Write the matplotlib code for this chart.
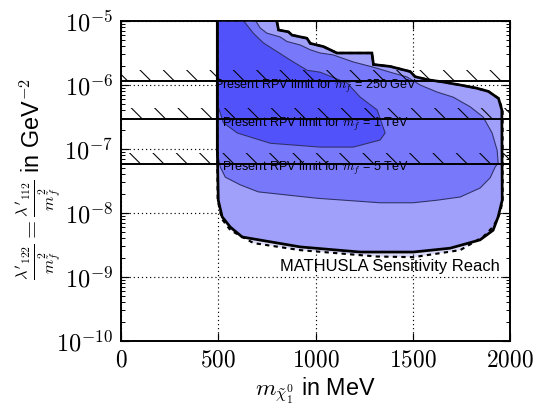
import matplotlib
matplotlib.use("Agg")
import matplotlib.pyplot as plt
from matplotlib.ticker import FuncFormatter, LogLocator, FixedLocator
import numpy as np

plt.rcParams['font.family'] = ['Liberation Sans', 'DejaVu Sans']
plt.rcParams['mathtext.fontset'] = 'cm'
plt.rcParams['hatch.linewidth'] = 0.55

# --- data (x in MeV, y as log10 of GeV^-2) ---
# outer MATHUSLA reach (dotted, lightest)
faint_x = [495, 800, 810, 861, 879, 956, 973, 1041, 1110, 1290, 1298, 1384, 1487, 1512,
           1581, 1650, 1744, 1829, 1889, 1941, 1962, 1962, 1949, 1915, 1863, 1744, 1504,
           1316, 921, 681, 563, 520, 497, 495]
faint_ly = [-4.99, -4.99, -5.14, -5.17, -5.22, -5.27, -5.35, -5.40, -5.5, -5.5, -5.68, -5.71,
            -5.79, -5.87, -5.92, -5.95, -6.0, -6.05, -6.10, -6.21, -6.39, -7.8, -8.0, -8.21,
            -8.37, -8.58, -8.69, -8.68, -8.58, -8.47, -8.27, -8.1, -7.8, -7.0]

# MATHUSLA reach (thick solid line)
reach_x = [495, 800, 810, 861, 879, 956, 973, 1041, 1110, 1290, 1298, 1384, 1487, 1512,
           1581, 1650, 1744, 1829, 1889, 1941, 1958, 1960, 1939, 1913, 1846, 1692, 1502,
           1230, 922, 623, 562, 520, 500, 495]
reach_ly = [-4.99, -4.99, -5.14, -5.17, -5.22, -5.27, -5.35, -5.40, -5.5, -5.5, -5.68, -5.71,
            -5.79, -5.87, -5.92, -5.95, -6.0, -6.05, -6.10, -6.21, -6.39, -7.80, -8.06, -8.27,
            -8.42, -8.55, -8.61, -8.61, -8.53, -8.375, -8.22, -8.06, -7.80, -7.0]

# middle contour
mid_x = [500, 690, 716, 750, 819, 853, 922, 973, 1024, 1091, 1194, 1296, 1384, 1471, 1538,
         1625, 1708, 1795, 1862, 1908, 1934, 1939, 1924, 1898, 1846, 1744, 1625, 1502, 1332,
         1009, 706, 613, 536, 510, 500]
mid_ly = [-4.99, -4.99, -5.11, -5.19, -5.25, -5.32, -5.375, -5.45, -5.5, -5.53, -5.64, -5.72,
          -5.80, -5.875, -6.0, -6.11, -6.19, -6.34, -6.5, -6.75, -7.02, -7.22, -7.28, -7.45,
          -7.61, -7.75, -7.80, -7.84, -7.84, -7.77, -7.67, -7.56, -7.44, -7.28, -7.125]

# inner contour
core_x = [500, 628, 680, 731, 803, 870, 957, 1024, 1163, 1230, 1317, 1358, 1332, 1194, 1024,
          767, 598, 526, 500]
core_ly = [-4.99, -4.99, -5.19, -5.34, -5.48, -5.61, -5.77, -5.80, -5.97, -6.19, -6.39, -6.75,
           -6.86, -6.97, -6.97, -6.91, -6.75, -6.59, -6.34]

# present RPV limits
limit_vals = [1.17e-6, 2.91e-7, 5.77e-8]
limit_names = ["250 GeV", "1 TeV", "5 TeV"]
limit_text_x = [476, 519, 519]
limit_text_y = [9.6e-7, 2.45e-7, 4.9e-8]

x_ticks = [0, 500, 1000, 1500, 2000]

fig = plt.figure(figsize=(541 / 140, 415 / 140), dpi=140)
ax = fig.add_axes([0.2237, 0.1783, 0.7190, 0.7711])

def to_y(ly):
    return 10 ** np.array(ly)

ax.fill(faint_x, to_y(faint_ly), color='#dadaf8', lw=0, zorder=1)
ax.fill(reach_x, to_y(reach_ly), color='#a0a0fb', lw=0, zorder=2)
ax.fill(mid_x, to_y(mid_ly), color='#7878fb', lw=0, zorder=3)
ax.fill(core_x, to_y(core_ly), color='#5252fb', lw=0, zorder=4)

ax.fill(mid_x, to_y(mid_ly), facecolor='none', edgecolor='#303068', lw=0.55, zorder=5)
ax.fill(core_x, to_y(core_ly), facecolor='none', edgecolor='#303068', lw=0.55, zorder=5)
ax.fill(faint_x, to_y(faint_ly), facecolor='none', edgecolor='black', lw=1.1,
        linestyle=(0, (2, 2)), zorder=6)
ax.fill(reach_x, to_y(reach_ly), facecolor='none', edgecolor='black', lw=1.4, zorder=7)

for val, name, tx, ty in zip(limit_vals, limit_names, limit_text_x, limit_text_y):
    ax.fill_between([0, 2000], val, val * 1.49, facecolor='none', edgecolor='black',
                    hatch='\\\\', lw=0, zorder=8)
    ax.axhline(val, color='black', lw=1.0, zorder=9)
    ax.text(tx, ty, "Present RPV limit for $m_{\\tilde{f}}$ = " + name,
            fontsize=6.5, va='center', ha='left', zorder=10)

ax.text(1950, 10 ** -8.84, "MATHUSLA Sensitivity Reach", fontsize=8.5,
        ha='right', va='center', zorder=10)

ax.set_yscale('log')
ax.set_xlim(0, 2000)
ax.set_ylim(1e-10, 1e-5)
ax.xaxis.set_major_locator(FixedLocator(x_ticks))
ax.xaxis.set_major_formatter(FuncFormatter(lambda v, p: "$%d$" % v))
ax.yaxis.set_major_locator(LogLocator(base=10, numticks=10))
ax.yaxis.set_minor_locator(LogLocator(base=10, subs=np.arange(2, 10), numticks=20))
ax.yaxis.set_major_formatter(FuncFormatter(lambda v, p: "$10^{%d}$" % round(np.log10(v))))
ax.tick_params(which='both', direction='in', top=True, right=True)
ax.tick_params(axis='y', labelsize=12.5)
ax.tick_params(axis='x', labelsize=12)
ax.tick_params(which='major', length=4, width=0.6, pad=4)
ax.tick_params(which='minor', length=2, width=0.5)
ax.grid(True, which='major', color='black', linestyle=(0, (1, 2.5)), lw=0.6)
for s in ax.spines.values():
    s.set_linewidth(1.0)

ax.set_xlabel("$m_{\\tilde{\\chi}_1^0}$ in MeV", fontsize=12, labelpad=2)
ax.set_ylabel("$\\frac{\\lambda'_{122}}{m_{\\tilde{f}}^2} = \\frac{\\lambda'_{112}}{m_{\\tilde{f}}^2}$ in GeV$^{-2}$",
              fontsize=12)
ax.yaxis.set_label_coords(-0.15, 0.505)

fig.savefig("out.png", dpi=140)
